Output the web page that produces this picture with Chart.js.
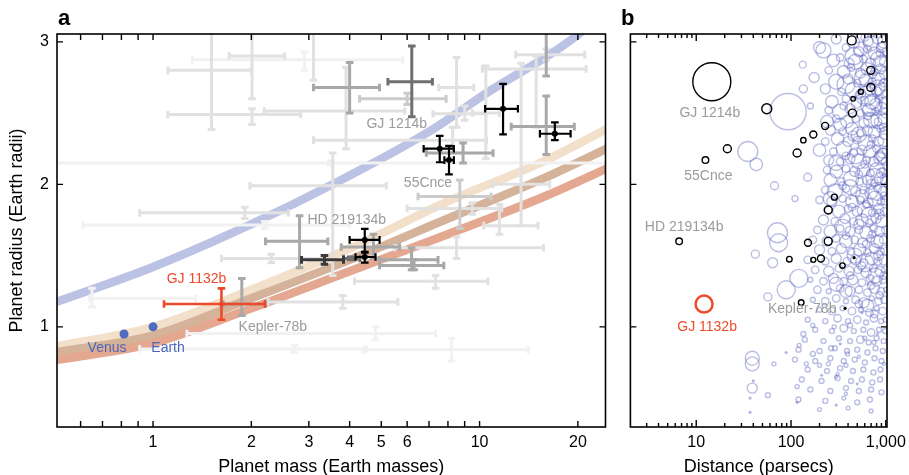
<!DOCTYPE html>
<html>
<head>
<meta charset="utf-8">
<script src="https://cdn.jsdelivr.net/npm/chart.js@4.4.0/dist/chart.umd.min.js"></script>
<style>
  html, body { margin: 0; padding: 0; background: #fff; }
  #wrap { position: relative; width: 909px; height: 475px; overflow: hidden; }
  #chartA { position: absolute; left: 0; top: 0; }
  #chartB { position: absolute; left: 610px; top: 0; }
</style>
</head>
<body>
<div id="wrap">
  <canvas id="chartA" width="610" height="475"></canvas>
  <canvas id="chartB" width="299" height="475"></canvas>
</div>
<script>
console.info('mass-radius chart')

// ---- panel a : mass-radius models, [mass, radius]
const waterWorld = [[0.5, 1.17], [1, 1.42], [2, 1.72], [3.55, 2.0], [7, 2.37], [10.5, 2.64], [20, 3.05], [26, 3.3]]
const rockLight  = [[0.5, 0.86], [1, 1.0], [2, 1.26], [4, 1.55], [8, 1.88], [16, 2.17], [25, 2.4]]
const earthLike  = [[0.5, 0.82], [1, 0.94], [2, 1.2], [4, 1.47], [8, 1.76], [16, 2.05], [25, 2.26]]
const ironRich   = [[0.5, 0.765], [1, 0.885], [2, 1.13], [4, 1.39], [8, 1.65], [16, 1.92], [25, 2.12]]

// solar system, [mass, radius]
const venus = [0.815, 0.95]
const earth = [1, 1]

// measured planets, [mass, massLo, massHi, radius, radiusLo, radiusHi]
const faintPlanets = [
  [2.91, 1.32, 5.82, 2.875, 2.80, 2.93],
  [4.8, 1.27, 7.33, 0.953, 0.91, 1.0],
  [2.71, 0.91, 4.5, 0.845, 0.82, 0.87],
  [8.2, 4.4, 14.1, 0.84, 0.76, 0.92],
  [0.65, 0.64, 1.35, 1.2, 1.14, 1.27],
  [2.2, 0.61, 4.0, 1.715, 1.69, 1.74],
  [3.5, 0.3, 40, 2.15, 2.135, 2.165]
]
const lightPlanets = [
  [1.51, 1.11, 2.0, 2.80, 2.385, 3.215],
  [2.01, 1.11, 2.83, 2.49, 2.42, 2.53],
  [2.01, 1.71, 2.53, 2.90, 2.60, 3.2],
  [3.1, 2.95, 3.25, 3.2, 2.73, 3.6],
  [3.9, 2.19, 5.9, 2.515, 2.25, 2.82],
  [8.27, 3.1, 10.5, 2.31, 2.22, 2.40],
  [3.55, 1.98, 5.18, 1.99, 1.36, 2.22],
  [1.91, 0.91, 2.6, 1.80, 1.76, 1.84],
  [8.5, 5.5, 15.7, 1.555, 1.48, 1.63],
  [7.33, 4.14, 10.6, 1.32, 1.27, 1.36],
  [3.81, 2.25, 5.62, 1.175, 1.13, 1.22],
  [2.3, 1.62, 3.3, 1.48, 1.45, 1.51],
  [13.4, 11.0, 16.4, 2.0, 1.71, 2.85],
  [8.5, 7.5, 9.6, 2.68, 2.40, 2.89],
  [10.45, 9.5, 11.5, 2.5, 2.18, 2.83],
  [14.9, 10.2, 21.2, 2.81, 2.40, 2.90],
  [16.0, 12.9, 21.0, 2.91, 2.87, 2.95],
  [11.5, 10.3, 15.1, 1.71, 1.65, 1.86],
  [9.5, 6.0, 11.7, 1.83, 1.79, 1.87],
  [9.0, 7.2, 10.45, 2.495, 2.45, 2.55]
]
const silverPlanets = [
  [8.7, 6.48, 10.85, 1.915, 1.69, 2.03],
  [6.0, 4.29, 7.9, 2.60, 2.56, 2.64]
]
const grayPlanets = [
  [1.87, 1.64, 2.21, 1.16, 1.08, 1.34],
  [4.0, 3.1, 4.94, 2.68, 2.50, 2.855],
  [2.81, 2.21, 3.43, 1.60, 1.415, 1.78],
  [4.73, 3.77, 5.69, 1.56, 1.48, 1.65],
  [6.19, 4.94, 7.46, 1.47, 1.40, 1.555],
  [6.3, 4.94, 7.77, 1.43, 1.40, 1.47],
  [16.0, 12.5, 19.5, 2.405, 2.21, 2.62],
  [8.9, 6.87, 11.0, 2.22, 2.15, 2.29],
  [16.0, 15.5, 16.5, 3.1, 2.76, 3.4]
]
const darkPlanets = [
  [6.2, 5.24, 7.17, 2.72, 2.475, 2.97],
  [4.03, 3.83, 4.3, 1.48, 1.47, 1.49]
]
const charcoalPlanets = [
  [3.35, 2.85, 3.83, 1.47, 1.44, 1.50]
]
const blackPlanets = [
  [11.8, 10.4, 13.1, 2.53, 2.35, 2.705],
  [17.0, 15.3, 19.0, 2.355, 2.31, 2.435],
  [7.55, 6.74, 8.34, 2.25, 2.155, 2.34],
  [8.06, 7.8, 8.34, 2.17, 2.07, 2.27],
  [4.45, 4.0, 4.94, 1.61, 1.527, 1.687],
  [4.45, 4.17, 4.8, 1.49, 1.45, 1.52]
]
const gj1132bMass = [1.62, 1.08, 2.2, 1.16, 1.05, 1.27]

// ticks
const massTicks = [1, 2, 3, 4, 5, 6, 10, 20]
const massMinor = [0.6, 0.7, 0.8, 0.9, 1, 2, 3, 4, 5, 6, 7, 8, 9, 10, 20]
const radiusTicks = [1, 2, 3]
const distTicks = [10, 100, 1000]
const distMinor = [3, 4, 5, 6, 7, 8, 9, 20, 30, 40, 50, 60, 70, 80, 90, 200, 300, 400, 500, 600, 700, 800, 900]

// ---- panel b : distance vs radius, [distance, radius, signal]
const knownPlanets = [
  [14.6, 2.72, 19], [55.5, 2.53, 5], [21.3, 2.25, 4], [12.5, 2.17, 3.3], [437, 3.01, 4.5],
  [695, 2.80, 4], [695, 2.68, 4], [546, 2.65, 2.5], [452, 2.60, 2.3], [445, 2.50, 4],
  [229, 2.41, 3.5], [172, 2.35, 3.5], [135, 2.31, 2.7], [116, 2.22, 4], [287, 1.91, 3],
  [247, 1.82, 4], [6.6, 1.60, 3.3], [151, 1.59, 3.5], [247, 1.60, 4], [96, 1.475, 2.8],
  [172, 1.47, 2.5], [207, 1.48, 3.5], [349, 1.43, 2.7], [128, 1.17, 2.8]
]
const knownDots = [[463, 1.485, 1.6], [372, 1.13, 1.6]]
const gj1132bDist = [12.1, 1.16, 8.5]

const keplerCandidates = [
  // sparse outer ones
  [93, 2.51, 14.5], [35, 2.23, 8], [43, 2.14, 5], [67, 1.99, 3.2], [133, 2.84, 2.8], [135, 2.67, 3.2],
  [200, 2.96, 4.8], [175, 2.75, 4], [74, 1.59, 7.2], [89, 1.26, 7.2], [121, 1.34, 7.2], [57, 1.21, 3.2],
  [42, 1.51, 3.2], [72, 1.66, 8], [64, 1.45, 4], [39, 0.78, 5.6], [39, 0.74, 5.6], [39, 0.57, 4],
  [57, 0.52, 2], [66, 0.74, 1.6], [116, 0.58, 1.6], [122, 0.87, 1.6], [135, 0.95, 2], [145, 0.74, 1.6],
  [170, 0.81, 2], [170, 1.01, 1.6], [200, 0.73, 1.6], [248, 0.74, 1.6], [265, 0.85, 2], [285, 1.0, 1.6],
  [310, 0.67, 1.2], [380, 0.53, 1.2], [380, 0.73, 1.6], [395, 0.81, 1.6], [600, 0.92, 1.6], [750, 0.89, 1.6],
  [950, 0.74, 1.2], [520, 0.79, 1.2], [300, 0.65, 1.2], [110, 1.9, 2.4], [150, 2.05, 3.2], [160, 2.55, 2.4],
  // bigger ones inside the dense region
  [380, 2.7, 7.2], [700, 2.55, 8], [480, 2.2, 6.4], [820, 1.95, 7.2], [350, 1.7, 6.4], [600, 1.45, 7.2],
  [260, 1.9, 5.6], [900, 2.85, 6.4], [540, 2.95, 5.6], [300, 1.3, 5.6],
  // dense region, row by row
  [300, 3.02, 4], [455, 3.0, 5], [600, 3.03, 3], [700, 2.99, 6], [820, 3.02, 4], [950, 3.0, 5],
  [220, 2.94, 6], [380, 2.96, 3], [520, 2.93, 4], [640, 2.95, 3], [760, 2.92, 5], [900, 2.96, 4], [1000, 2.93, 3],
  [280, 2.87, 5], [330, 2.89, 3], [480, 2.86, 6], [580, 2.88, 3], [690, 2.85, 4], [830, 2.88, 6], [970, 2.86, 4],
  [250, 2.80, 3], [360, 2.79, 5], [430, 2.82, 3], [540, 2.78, 4], [640, 2.81, 5], [760, 2.79, 3], [880, 2.81, 4], [1000, 2.78, 5],
  [300, 2.72, 6], [400, 2.74, 4], [500, 2.71, 3], [610, 2.73, 5], [720, 2.72, 3], [840, 2.74, 5], [950, 2.71, 3],
  [230, 2.67, 4], [340, 2.65, 3], [450, 2.66, 6], [560, 2.64, 3], [680, 2.67, 5], [800, 2.65, 4], [920, 2.66, 6], [1010, 2.64, 3],
  [270, 2.58, 5], [380, 2.60, 3], [490, 2.57, 4], [600, 2.59, 3], [720, 2.58, 6], [850, 2.6, 3], [960, 2.57, 4],
  [250, 2.52, 3], [330, 2.51, 6], [420, 2.53, 4], [540, 2.5, 3], [660, 2.52, 5], [780, 2.51, 3], [900, 2.53, 5], [1000, 2.5, 4],
  [240, 2.44, 5], [300, 2.46, 3], [390, 2.44, 5], [480, 2.46, 3], [590, 2.43, 4], [700, 2.45, 6], [830, 2.44, 3], [940, 2.46, 4],
  [260, 2.38, 4], [350, 2.37, 3], [440, 2.39, 5], [540, 2.36, 3], [640, 2.38, 4], [760, 2.37, 5], [880, 2.39, 3], [990, 2.36, 5],
  [230, 2.3, 3], [310, 2.32, 5], [400, 2.3, 4], [500, 2.31, 3], [610, 2.29, 6], [720, 2.32, 3], [840, 2.3, 4], [960, 2.31, 5],
  [200, 2.24, 5], [280, 2.23, 3], [360, 2.25, 6], [460, 2.22, 3], [560, 2.24, 4], [680, 2.23, 5], [800, 2.25, 3], [920, 2.22, 4], [1010, 2.24, 3],
  [250, 2.17, 4], [330, 2.16, 3], [420, 2.18, 4], [520, 2.16, 6], [630, 2.17, 3], [750, 2.16, 4], [870, 2.18, 5], [980, 2.16, 3],
  [240, 2.1, 3], [300, 2.09, 5], [380, 2.11, 3], [470, 2.09, 4], [580, 2.1, 5], [690, 2.08, 3], [810, 2.1, 6], [930, 2.09, 3],
  [260, 2.03, 5], [340, 2.02, 3], [430, 2.04, 6], [530, 2.02, 3], [640, 2.03, 4], [760, 2.01, 3], [880, 2.04, 5], [990, 2.02, 4],
  [230, 1.96, 3], [290, 1.95, 6], [380, 1.97, 3], [480, 1.95, 4], [580, 1.96, 3], [700, 1.94, 5], [820, 1.97, 3], [940, 1.95, 4],
  [200, 1.89, 3], [270, 1.88, 4], [350, 1.9, 3], [440, 1.88, 5], [540, 1.89, 3], [650, 1.87, 4], [770, 1.9, 6], [890, 1.88, 3], [1000, 1.89, 4],
  [250, 1.82, 3], [320, 1.81, 5], [400, 1.83, 3], [500, 1.81, 4], [600, 1.82, 6], [720, 1.8, 3], [840, 1.83, 4], [960, 1.81, 3],
  [220, 1.75, 4], [290, 1.74, 3], [370, 1.76, 4], [460, 1.74, 3], [560, 1.75, 5], [670, 1.73, 3], [790, 1.76, 4], [910, 1.74, 5],
  [190, 1.68, 3], [260, 1.67, 5], [330, 1.69, 3], [420, 1.67, 4], [520, 1.68, 3], [620, 1.66, 5], [740, 1.69, 3], [860, 1.67, 4], [990, 1.68, 3],
  [170, 1.61, 3], [240, 1.6, 4], [300, 1.62, 3], [380, 1.6, 5], [470, 1.61, 3], [570, 1.59, 4], [690, 1.62, 3], [810, 1.6, 5], [940, 1.61, 3],
  [200, 1.54, 4], [270, 1.53, 3], [340, 1.55, 4], [430, 1.53, 3], [530, 1.54, 5], [640, 1.52, 3], [760, 1.55, 4], [880, 1.53, 3], [1000, 1.54, 4],
  [150, 1.47, 3], [230, 1.46, 3], [300, 1.48, 4], [390, 1.46, 3], [480, 1.47, 4], [590, 1.45, 3], [710, 1.48, 5], [830, 1.46, 3], [960, 1.47, 4],
  [180, 1.4, 3], [250, 1.39, 4], [320, 1.41, 3], [410, 1.39, 4], [510, 1.4, 3], [620, 1.38, 4], [740, 1.41, 3], [870, 1.39, 4], [990, 1.4, 3],
  [160, 1.33, 2], [220, 1.32, 3], [280, 1.34, 4], [360, 1.32, 3], [450, 1.33, 4], [560, 1.31, 3], [680, 1.34, 3], [800, 1.32, 4], [930, 1.33, 3],
  [190, 1.26, 3], [250, 1.25, 2], [330, 1.27, 3], [420, 1.25, 4], [520, 1.26, 3], [640, 1.24, 3], [760, 1.27, 4], [890, 1.25, 3], [1010, 1.26, 2],
  [170, 1.19, 2], [230, 1.18, 3], [300, 1.2, 3], [380, 1.18, 2], [480, 1.19, 3], [590, 1.17, 4], [710, 1.2, 2], [840, 1.18, 3], [970, 1.19, 3],
  [200, 1.12, 2], [270, 1.11, 3], [350, 1.13, 2], [440, 1.11, 3], [550, 1.12, 2], [670, 1.1, 3], [800, 1.13, 2], [930, 1.11, 3],
  [150, 1.05, 2], [230, 1.04, 2], [310, 1.06, 3], [400, 1.04, 2], [500, 1.05, 3], [620, 1.03, 2], [750, 1.06, 3], [890, 1.04, 2], [1000, 1.05, 2],
  [180, 0.98, 2], [270, 0.97, 2], [360, 0.99, 3], [460, 0.97, 2], [580, 0.98, 2], [700, 0.96, 3], [850, 0.98, 2], [980, 0.97, 2],
  [140, 0.91, 2], [220, 0.9, 2], [320, 0.92, 2], [420, 0.9, 2], [540, 0.91, 3], [660, 0.89, 2], [800, 0.92, 2], [950, 0.9, 2],
  [120, 0.84, 2], [200, 0.83, 2], [290, 0.85, 2], [390, 0.83, 2], [500, 0.84, 2], [640, 0.82, 2], [780, 0.85, 2], [930, 0.83, 2],
  [110, 0.77, 2], [180, 0.76, 2], [260, 0.78, 2], [360, 0.76, 2], [470, 0.77, 2], [600, 0.75, 2], [760, 0.78, 2], [900, 0.76, 2],
  [150, 0.7, 2], [240, 0.69, 2], [330, 0.71, 2], [450, 0.69, 2], [580, 0.7, 2], [740, 0.68, 2], [880, 0.7, 2],
  [130, 0.63, 2], [210, 0.62, 2], [310, 0.64, 2], [430, 0.62, 2], [560, 0.63, 2], [720, 0.61, 2], [870, 0.63, 2],
  [160, 0.56, 2], [260, 0.55, 2], [380, 0.57, 2], [520, 0.55, 2], [700, 0.56, 2], [900, 0.54, 2],
  [120, 0.49, 2], [230, 0.48, 2], [360, 0.5, 1.5], [500, 0.47, 2], [680, 0.49, 2],
  [200, 0.42, 1.5], [400, 0.43, 1.5], [700, 0.41, 1.5],
  // extra fill of the crowded far side
  [460, 2.9, 7], [620, 2.62, 8], [860, 2.45, 7], [520, 2.35, 6], [760, 2.05, 7], [420, 1.98, 6],
  [680, 1.78, 7], [900, 1.6, 6], [470, 1.5, 6], [780, 1.36, 6], [380, 1.25, 5], [640, 1.15, 5],
  [560, 2.75, 6], [950, 2.2, 6], [330, 2.42, 5], [820, 2.68, 6], [300, 2.15, 6], [560, 1.92, 5],
  [650, 3.0, 4], [870, 2.92, 3], [410, 2.85, 4], [730, 2.77, 3], [980, 2.7, 5], [520, 2.63, 3],
  [790, 2.56, 5], [360, 2.55, 3], [640, 2.48, 3], [940, 2.4, 3], [450, 2.34, 4], [700, 2.28, 3],
  [860, 2.2, 4], [380, 2.2, 3], [600, 2.14, 3], [900, 2.08, 4], [520, 2.07, 3], [700, 2.0, 4],
  [350, 1.99, 3], [960, 1.92, 3], [620, 1.86, 3], [440, 1.84, 3], [850, 1.79, 4], [520, 1.72, 4],
  [720, 1.65, 3], [380, 1.64, 3], [620, 1.58, 3], [840, 1.5, 4], [560, 1.43, 3], [950, 1.36, 3],
  [420, 1.36, 3], [700, 1.29, 3], [860, 1.22, 3], [520, 1.16, 3], [760, 1.09, 3], [420, 1.01, 2]
]
const keplerDots = [
  [37, 0.5], [37, 0.40], [89, 0.82], [116, 0.47], [40, 0.62], [300, 0.45], [500, 0.6], [560, 1.1], [210, 0.66],
  [650, 1.3], [820, 0.95], [420, 1.9], [760, 2.4], [330, 0.88]
]

// ---------------------------------------------------------------
const FONT = '"Liberation Sans", Arial, Helvetica, sans-serif'
Chart.defaults.font.family = FONT
Chart.defaults.color = '#000'

const toBars = rows => rows.map(([m, mLo, mHi, r, rLo, rHi]) => ({ x: m, y: r, xMin: mLo, xMax: mHi, yMin: rLo, yMax: rHi }))
const toXY = rows => rows.map(([x, y]) => ({ x: x, y: y }))

// frame with inward ticks on every side
const frame = {
  id: 'frame',
  afterDraw(chart, args, opts) {
    const { ctx, chartArea: a, scales: { x, y } } = chart
    ctx.save()
    ctx.strokeStyle = '#000'
    ctx.lineWidth = 1.6
    ctx.strokeRect(a.left, a.top, a.width, a.height)
    ctx.lineWidth = 1.4
    ctx.beginPath()
    opts.xTicks.forEach(function (v) {
      const len = opts.major.includes(v) ? opts.majorLen : opts.minorLen
      const px = x.getPixelForValue(v)
      ctx.moveTo(px, a.bottom); ctx.lineTo(px, a.bottom - len)
      ctx.moveTo(px, a.top); ctx.lineTo(px, a.top + len)
    })
    opts.yTicks.forEach(function (v) {
      const py = y.getPixelForValue(v)
      ctx.moveTo(a.left, py); ctx.lineTo(a.left + opts.yLen, py)
      ctx.moveTo(a.right, py); ctx.lineTo(a.right - opts.yLen, py)
    })
    ctx.stroke()
    ctx.restore()
  }
}

// error bars drawn under each dataset's points
const whiskers = {
  id: 'whiskers',
  beforeDatasetDraw(chart, args) {
    const ds = chart.data.datasets[args.index]
    if (!ds.whisker) return
    const { ctx, chartArea: a, scales: { x, y } } = chart
    const cap = ds.whisker.cap
    ctx.save()
    ctx.beginPath()
    ctx.rect(a.left, a.top, a.width, a.height)
    ctx.clip()
    ctx.strokeStyle = ds.whisker.color
    ctx.lineWidth = ds.whisker.width
    ds.data.forEach(function (p) {
      const px = x.getPixelForValue(p.x), py = y.getPixelForValue(p.y)
      const x0 = x.getPixelForValue(p.xMin), x1 = x.getPixelForValue(p.xMax)
      const y0 = y.getPixelForValue(p.yMin), y1 = y.getPixelForValue(p.yMax)
      ctx.beginPath()
      ctx.moveTo(x0, py); ctx.lineTo(x1, py)
      ctx.moveTo(px, y0); ctx.lineTo(px, y1)
      ctx.moveTo(x0, py - cap); ctx.lineTo(x0, py + cap)
      ctx.moveTo(x1, py - cap); ctx.lineTo(x1, py + cap)
      ctx.moveTo(px - cap, y0); ctx.lineTo(px + cap, y0)
      ctx.moveTo(px - cap, y1); ctx.lineTo(px + cap, y1)
      ctx.stroke()
    })
    ctx.restore()
  }
}

// text labels anchored to data points, plus the panel letter
const notes = {
  id: 'notes',
  afterDatasetsDraw(chart, args, opts) {
    const { ctx, scales: { x, y } } = chart
    ctx.save()
    ctx.textAlign = 'center'
    ctx.textBaseline = 'middle'
    ctx.font = '14px ' + FONT
    opts.items.forEach(function (t) {
      ctx.fillStyle = t.color
      ctx.fillText(t.text, x.getPixelForValue(t.at[0]) + t.dx, y.getPixelForValue(t.at[1]) + t.dy)
    })
    ctx.font = 'bold 22px ' + FONT
    ctx.fillStyle = '#000'
    ctx.textAlign = 'left'
    ctx.textBaseline = 'alphabetic'
    ctx.fillText(opts.letter.text, opts.letter.left, opts.letter.base)
    ctx.restore()
  }
}

const curve = (rows, color, order) => ({
  type: 'line', data: toXY(rows), showLine: true, borderColor: color, borderWidth: 8.5,
  pointRadius: 0, cubicInterpolationMode: 'monotone', fill: false, clip: 0, order: order
})
const barSet = (rows, color, width, dot, order) => ({
  data: toBars(rows), whisker: { color: color, width: width, cap: 3.8 },
  pointRadius: dot, backgroundColor: color, borderWidth: 0, clip: 0, order: order
})

const GRAY_TEXT = '#9b9b9b'
const RED = '#ee4a2a'
const BLUE = '#4a68bb'

new Chart(document.getElementById('chartA'), {
  type: 'scatter',
  data: {
    datasets: [
      curve(waterWorld, '#bcc2e4', 20),
      curve(rockLight, '#f2e0ca', 19),
      curve(earthLike, '#d5b29a', 18),
      curve(ironRich, '#e4a78f', 17),
      { data: toXY([venus, earth]), pointRadius: 4.5, backgroundColor: '#4d6bbf', borderWidth: 0, order: 16 },
      barSet(faintPlanets, '#f1f1f1', 3, 0, 15),
      barSet(lightPlanets, '#e1e1e1', 3, 0, 14),
      barSet(silverPlanets, '#cbcbcb', 3, 0, 13),
      barSet(grayPlanets, '#a8a8a8', 3, 0, 12),
      barSet(darkPlanets, '#6f6f6f', 3, 0, 11),
      barSet(charcoalPlanets, '#3a3a3a', 3, 0, 10),
      barSet(blackPlanets, '#000000', 2.2, 3, 9),
      barSet([gj1132bMass], RED, 2.6, 2.5, 8)
    ]
  },
  options: {
    responsive: false,
    devicePixelRatio: 1,
    animation: false,
    events: [],
    layout: { padding: { top: 34, right: 4, bottom: 0, left: 0 } },
    plugins: {
      legend: { display: false },
      tooltip: { enabled: false },
      frame: { xTicks: massMinor, major: [], majorLen: 6, minorLen: 6, yTicks: radiusTicks, yLen: 6 },
      notes: {
        letter: { text: 'a', left: 58, base: 25 },
        items: [
          { text: 'GJ 1214b', at: [6.2, 2.72], dx: -15, dy: 42, color: GRAY_TEXT },
          { text: '55Cnce', at: [8.06, 2.17], dx: -21, dy: 23, color: GRAY_TEXT },
          { text: 'HD 219134b', at: [4.45, 1.61], dx: -18, dy: -20, color: GRAY_TEXT },
          { text: 'GJ 1132b', at: [1.62, 1.16], dx: -25, dy: -25, color: RED },
          { text: 'Kepler-78b', at: [1.87, 1.16], dx: 31, dy: 23, color: GRAY_TEXT },
          { text: 'Venus', at: venus, dx: -17, dy: 14, color: BLUE },
          { text: 'Earth', at: earth, dx: 15, dy: 21, color: BLUE }
        ]
      }
    },
    scales: {
      x: {
        type: 'logarithmic', min: 0.508, max: 24.3,
        grid: { display: false, drawTicks: false }, border: { display: false },
        afterBuildTicks: s => { s.ticks = massTicks.map(v => ({ value: v })) },
        ticks: { font: { size: 16 }, padding: 6, maxRotation: 0, autoSkip: false, callback: v => String(v) },
        title: { display: true, text: 'Planet mass (Earth masses)', font: { size: 18 }, padding: { top: 0, bottom: -3 } },
        afterFit: s => { s.height = 48; s.paddingLeft = 0; s.paddingRight = 0 }
      },
      y: {
        type: 'linear', min: 0.297, max: 3.055,
        grid: { display: false, drawTicks: false }, border: { display: false },
        afterBuildTicks: s => { s.ticks = radiusTicks.map(v => ({ value: v })) },
        ticks: { font: { size: 16 }, padding: 8, callback: v => String(v) },
        title: { display: true, text: 'Planet radius (Earth radii)', font: { size: 18 }, padding: { top: 6, bottom: 0 } },
        afterFit: s => { s.width = 57; s.paddingTop = 0; s.paddingBottom = 0 }
      }
    }
  },
  plugins: [whiskers, frame, notes]
})

const bubbles = (rows, k) => rows.map(([d, r, s]) => ({ x: d, y: r, r: s * k }))

new Chart(document.getElementById('chartB'), {
  type: 'bubble',
  data: {
    datasets: [
      { data: bubbles(keplerCandidates, 1.25), borderColor: 'rgba(90,100,190,0.42)', backgroundColor: 'rgba(0,0,0,0)', borderWidth: 1.4, clip: 0, order: 5 },
      { data: bubbles(keplerDots.map(([d, r]) => [d, r, 1.6]), 1), borderWidth: 0, backgroundColor: 'rgba(90,100,190,0.45)', clip: 0, order: 4 },
      { data: bubbles(knownPlanets, 1), borderColor: '#000', backgroundColor: 'rgba(0,0,0,0)', borderWidth: 1.4, clip: 0, order: 3 },
      { data: bubbles(knownDots, 1), borderWidth: 0, backgroundColor: '#000', clip: 0, order: 2 },
      { data: bubbles([gj1132bDist], 1), borderColor: RED, backgroundColor: 'rgba(0,0,0,0)', borderWidth: 2.5, clip: 0, order: 1 }
    ]
  },
  options: {
    responsive: false,
    devicePixelRatio: 1,
    animation: false,
    events: [],
    layout: { padding: { top: 34, right: 22, bottom: 0, left: 4 } },
    plugins: {
      legend: { display: false },
      tooltip: { enabled: false },
      frame: { xTicks: distMinor.concat(distTicks), major: distTicks, majorLen: 7, minorLen: 4, yTicks: radiusTicks, yLen: 6 },
      notes: {
        letter: { text: 'b', left: 11, base: 25 },
        items: [
          { text: 'GJ 1214b', at: [14.6, 2.72], dx: -2, dy: 31, color: GRAY_TEXT },
          { text: '55Cnce', at: [12.5, 2.17], dx: 3, dy: 16, color: GRAY_TEXT },
          { text: 'HD 219134b', at: [6.6, 1.60], dx: 5, dy: -14, color: GRAY_TEXT },
          { text: 'GJ 1132b', at: [12.1, 1.16], dx: 3, dy: 23, color: RED },
          { text: 'Kepler-78b', at: [128, 1.17], dx: 1, dy: 7, color: GRAY_TEXT }
        ]
      }
    },
    scales: {
      x: {
        type: 'logarithmic', min: 2.02, max: 1030,
        grid: { display: false, drawTicks: false }, border: { display: false },
        afterBuildTicks: s => { s.ticks = distTicks.map(v => ({ value: v })) },
        ticks: { font: { size: 16 }, padding: 6, maxRotation: 0, autoSkip: false, callback: v => (v === 1000 ? '1,000' : String(v)) },
        title: { display: true, text: 'Distance (parsecs)', font: { size: 18 }, padding: { top: 0, bottom: -3 } },
        afterFit: s => { s.height = 48; s.paddingLeft = 0; s.paddingRight = 0 }
      },
      y: {
        type: 'linear', min: 0.297, max: 3.055, display: false
      }
    }
  },
  plugins: [frame, notes]
})
</script>
</body>
</html>
